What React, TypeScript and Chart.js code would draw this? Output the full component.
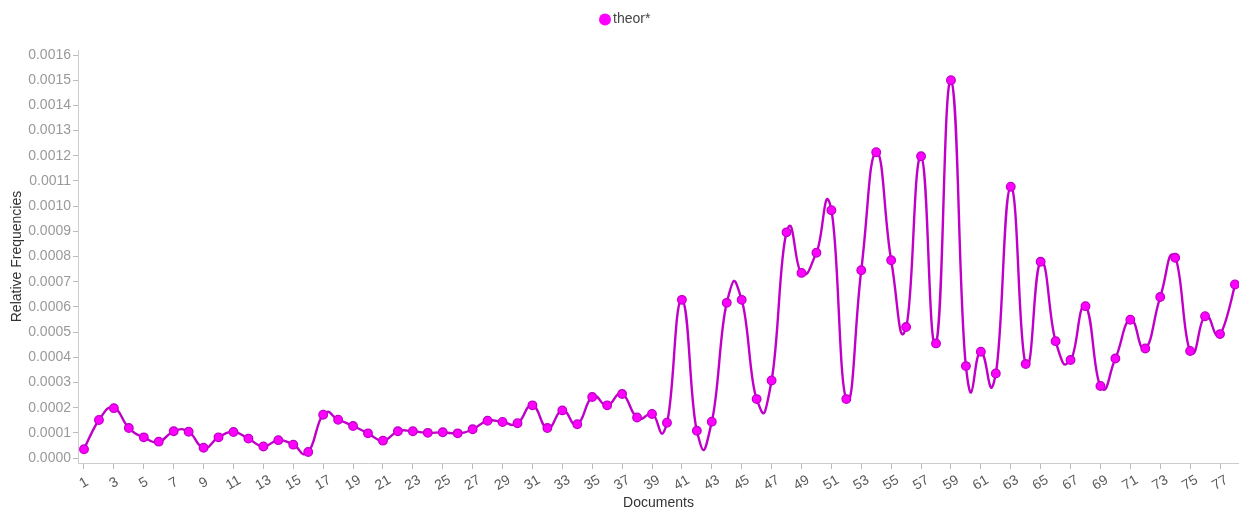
import { useEffect, useRef } from "react";
import { Chart, registerables } from "chart.js";

Chart.register(...registerables);

// Document numbers along the x axis
const documents = [
  1, 2, 3, 4, 5, 6, 7, 8, 9, 10, 11, 12, 13, 14, 15, 16, 17, 18, 19, 20,
  21, 22, 23, 24, 25, 26, 27, 28, 29, 30, 31, 32, 33, 34, 35, 36, 37, 38, 39, 40,
  41, 42, 43, 44, 45, 46, 47, 48, 49, 50, 51, 52, 53, 54, 55, 56, 57, 58, 59, 60,
  61, 62, 63, 64, 65, 66, 67, 68, 69, 70, 71, 72, 73, 74, 75, 76, 77, 78,
];

// Relative frequency of "theor*" in each document
const theorFreq = [
  0.0000345, 0.000151, 0.000198, 0.000119, 0.000082, 0.000065, 0.000106, 0.000104, 0.000041, 0.000082,
  0.000103, 0.000077, 0.000046, 0.000071, 0.000053, 0.000024, 0.000172, 0.000152, 0.000127, 0.000098,
  0.000069, 0.000106, 0.000106, 0.0001, 0.000102, 0.000098, 0.000114, 0.000148, 0.000143, 0.000138,
  0.000209, 0.000119, 0.000189, 0.000134, 0.000242, 0.000209, 0.000254, 0.000161, 0.000175, 0.00014,
  0.000628, 0.000108, 0.000144, 0.000616, 0.000628, 0.000234, 0.000308, 0.000896, 0.000735, 0.000815,
  0.000984, 0.000234, 0.000746, 0.001214, 0.000785, 0.00052, 0.001198, 0.000455, 0.0015, 0.000365,
  0.000422, 0.000336, 0.001077, 0.000373, 0.000779, 0.000464, 0.000389, 0.000603, 0.000286, 0.000395,
  0.000549, 0.000435, 0.000639, 0.000795, 0.000425, 0.000563, 0.000492, 0.000689,
];

const xTickLabels = [
  1, 3, 5, 7, 9, 11, 13, 15, 17, 19, 21, 23, 25, 27, 29, 31, 33, 35, 37, 39,
  41, 43, 45, 47, 49, 51, 53, 55, 57, 59, 61, 63, 65, 67, 69, 71, 73, 75, 77,
];

const yTickValues = [
  0, 0.0001, 0.0002, 0.0003, 0.0004, 0.0005, 0.0006, 0.0007, 0.0008,
  0.0009, 0.001, 0.0011, 0.0012, 0.0013, 0.0014, 0.0015, 0.0016,
];

const seriesLabel = "theor*";
const xTitle = "Documents";
const yTitle = "Relative Frequencies";

const LINE_COLOR = "#c000c8";
const POINT_COLOR = "#ff00ff";
const AXIS_COLOR = "#cccccc";
const FONT = "Arial, 'Liberation Sans', sans-serif";
// tangent scale of the cardinal spline through the points
const SPLINE_A = 0.25;

// Cardinal spline control points (replaces Chart.js' distance-weighted ones)
const cardinalSpline = {
  id: "cardinalSpline",
  beforeDatasetsDraw(chart: any) {
    chart.data.datasets.forEach((_: any, di: number) => {
      const meta = chart.getDatasetMeta(di);
      const line: any = meta.dataset;
      const pts: any[] = meta.data;
      const n = pts.length;
      if (!line || n < 3) return;
      const tan: { x: number; y: number }[] = [];
      for (let i = 1; i < n - 1; i++) {
        tan[i] = {
          x: SPLINE_A * (pts[i + 1].x - pts[i - 1].x),
          y: SPLINE_A * (pts[i + 1].y - pts[i - 1].y),
        };
        pts[i].cp1x = pts[i].x - tan[i].x;
        pts[i].cp1y = pts[i].y - tan[i].y;
        pts[i].cp2x = pts[i].x + tan[i].x;
        pts[i].cp2y = pts[i].y + tan[i].y;
      }
      // first segment: quadratic curve raised to cubic
      const q0x = pts[1].x - (tan[1].x * 2) / 3;
      const q0y = pts[1].y - (tan[1].y * 2) / 3;
      pts[0].cp1x = pts[0].x;
      pts[0].cp1y = pts[0].y;
      pts[0].cp2x = pts[0].x + (2 / 3) * (q0x - pts[0].x);
      pts[0].cp2y = pts[0].y + (2 / 3) * (q0y - pts[0].y);
      pts[1].cp1x = pts[1].x + (2 / 3) * (q0x - pts[1].x);
      pts[1].cp1y = pts[1].y + (2 / 3) * (q0y - pts[1].y);
      // last segment
      const a = pts[n - 2];
      const b = pts[n - 1];
      const qnx = a.x + (tan[n - 2].x * 2) / 3;
      const qny = a.y + (tan[n - 2].y * 2) / 3;
      a.cp2x = a.x + (2 / 3) * (qnx - a.x);
      a.cp2y = a.y + (2 / 3) * (qny - a.y);
      b.cp1x = b.x + (2 / 3) * (qnx - b.x);
      b.cp1y = b.y + (2 / 3) * (qny - b.y);
      b.cp2x = b.x;
      b.cp2y = b.y;
      line._pointsUpdated = true;
      line._path = undefined;
    });
  },
};

// Rotated x labels, axis titles and the legend
const chartText = {
  id: "chartText",
  afterDraw(chart: any) {
    const ctx = chart.ctx as CanvasRenderingContext2D;
    const xs = chart.scales.x;
    const area = chart.chartArea;
    ctx.save();
    ctx.font = `14px ${FONT}`;
    ctx.textAlign = "center";
    ctx.textBaseline = "middle";

    ctx.fillStyle = "#5a5a5a";
    xTickLabels.forEach((v) => {
      const px = xs.getPixelForValue(v);
      ctx.save();
      ctx.translate(px, area.bottom + 20);
      ctx.rotate(-Math.PI / 6);
      ctx.fillText(String(v), 0, 0);
      ctx.restore();
    });

    ctx.fillStyle = "#333333";
    ctx.fillText(xTitle, (area.left + area.right) / 2, chart.height - 5);

    ctx.save();
    ctx.translate(17.5, (area.top + area.bottom) / 2);
    ctx.rotate(-Math.PI / 2);
    ctx.fillText(yTitle, 0, 0);
    ctx.restore();

    const ds = chart.data.datasets[0];
    const cx = chart.width / 2 - 14.5;
    const cy = 19.5;
    ctx.beginPath();
    ctx.arc(cx, cy, 6, 0, Math.PI * 2);
    ctx.fillStyle = ds.pointBackgroundColor;
    ctx.fill();
    ctx.fillStyle = "#444444";
    ctx.textAlign = "left";
    ctx.fillText(ds.label, cx + 8, cy);
    ctx.restore();
  },
};

export default function App() {
  const canvasRef = useRef<HTMLCanvasElement | null>(null);

  useEffect(() => {
    if (!canvasRef.current) return;
    const chart = new Chart(canvasRef.current, {
      type: "line",
      data: {
        datasets: [
          {
            label: seriesLabel,
            data: documents.map((d, i) => ({ x: d, y: theorFreq[i] })),
            borderColor: LINE_COLOR,
            borderWidth: 2.4,
            pointBackgroundColor: POINT_COLOR,
            pointBorderColor: LINE_COLOR,
            pointBorderWidth: 1.3,
            pointRadius: 4.3,
            tension: 0.4,
            fill: false,
          },
        ],
      },
      options: {
        responsive: false,
        animation: false,
        layout: { autoPadding: false, padding: { left: 0, right: 0, top: 50, bottom: 0 } },
        plugins: {
          legend: { display: false },
          tooltip: { enabled: false },
        },
        scales: {
          x: {
            type: "linear",
            min: 0.5987,
            max: 78.27,
            afterBuildTicks: (scale: any) => {
              scale.ticks = xTickLabels.map((v) => ({ value: v }));
            },
            afterFit: (scale: any) => {
              scale.height = 45;
            },
            ticks: { display: false },
            grid: {
              drawOnChartArea: false,
              drawTicks: true,
              tickLength: 6,
              color: "#bbbbbb",
            },
            border: { display: true, color: AXIS_COLOR, width: 1 },
          },
          y: {
            type: "linear",
            min: -0.0000198,
            max: 0.00162,
            afterBuildTicks: (scale: any) => {
              scale.ticks = yTickValues.map((v) => ({ value: v }));
            },
            afterFit: (scale: any) => {
              scale.width = 78;
            },
            ticks: {
              color: "#9a9a9a",
              font: { family: FONT, size: 14 },
              padding: 2,
              callback: (v: any) => Number(v).toFixed(4),
            },
            grid: {
              drawOnChartArea: false,
              drawTicks: true,
              tickLength: 5,
              color: "#bbbbbb",
            },
            border: { display: true, color: AXIS_COLOR, width: 1 },
          },
        },
      },
      plugins: [cardinalSpline, chartText],
    });
    return () => chart.destroy();
  }, []);

  return (
    <div style={{ position: "fixed", left: 0, top: 0, width: 1239, height: 508, background: "#fff" }}>
      <canvas ref={canvasRef} width={1239} height={508} style={{ display: "block" }} />
    </div>
  );
}
